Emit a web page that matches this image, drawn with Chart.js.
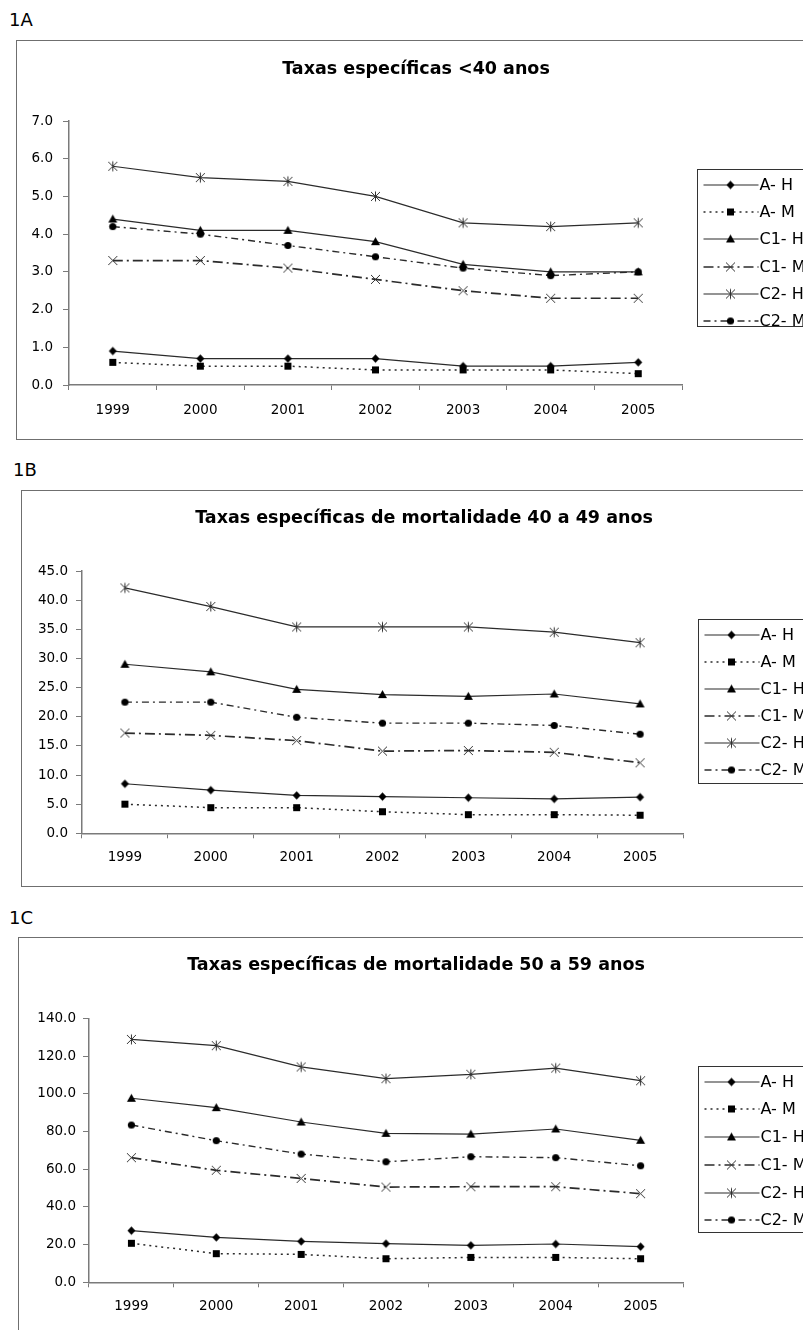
<!DOCTYPE html>
<html>
<head>
<meta charset="utf-8">
<script src="https://cdn.jsdelivr.net/npm/chart.js@4.4.0/dist/chart.umd.min.js"></script>
<style>
html,body{margin:0;padding:0;background:#fff;overflow:hidden;width:803px;height:1330px;position:relative;}
.lbl{position:absolute;font-family:"DejaVu Sans";font-size:18px;line-height:18px;color:#000;}
.box{position:absolute;border:1px solid #6f6f6f;box-sizing:border-box;pointer-events:none;}
canvas{position:absolute;}
</style>
</head>
<body>
<div class="lbl" style="left:9px;top:11px">1A</div>
<div class="lbl" style="left:13px;top:461px">1B</div>
<div class="lbl" style="left:9px;top:909px">1C</div>
<canvas id="cA"></canvas><div class="box" id="bA"></div>
<canvas id="cB"></canvas><div class="box" id="bB"></div>
<canvas id="cC"></canvas><div class="box" id="bC"></div>
<script>
// ---------- data ----------
const years = ['1999', '2000', '2001', '2002', '2003', '2004', '2005'];
const seriesNames = ['A- H', 'A- M', 'C1- H', 'C1- M', 'C2- H', 'C2- M'];

const titleA = 'Taxas específicas <40 anos';
const aH_A  = [0.9, 0.7, 0.7, 0.7, 0.5, 0.5, 0.6];
const aM_A  = [0.6, 0.5, 0.5, 0.4, 0.4, 0.4, 0.3];
const c1H_A = [4.4, 4.1, 4.1, 3.8, 3.2, 3.0, 3.0];
const c1M_A = [3.3, 3.3, 3.1, 2.8, 2.5, 2.3, 2.3];
const c2H_A = [5.8, 5.5, 5.4, 5.0, 4.3, 4.2, 4.3];
const c2M_A = [4.2, 4.0, 3.7, 3.4, 3.1, 2.9, 3.0];
const yTicksA = [0, 1, 2, 3, 4, 5, 6, 7];

const titleB = 'Taxas específicas de mortalidade 40 a 49 anos';
const aH_B  = [8.5, 7.4, 6.5, 6.3, 6.1, 5.9, 6.2];
const aM_B  = [5.0, 4.4, 4.4, 3.7, 3.2, 3.2, 3.1];
const c1H_B = [29.0, 27.7, 24.7, 23.8, 23.5, 23.9, 22.2];
const c1M_B = [17.2, 16.8, 15.9, 14.1, 14.2, 13.9, 12.1];
const c2H_B = [42.1, 38.9, 35.4, 35.4, 35.4, 34.5, 32.7];
const c2M_B = [22.5, 22.5, 19.9, 18.9, 18.9, 18.5, 17.0];
const yTicksB = [0, 5, 10, 15, 20, 25, 30, 35, 40, 45];

const titleC = 'Taxas específicas de mortalidade 50 a 59 anos';
const aH_C  = [27.4, 23.8, 21.7, 20.5, 19.6, 20.3, 18.9];
const aM_C  = [20.7, 15.2, 14.8, 12.5, 13.2, 13.2, 12.5];
const c1H_C = [97.6, 92.6, 85.0, 79.0, 78.6, 81.3, 75.3];
const c1M_C = [66.1, 59.4, 55.1, 50.5, 50.7, 50.7, 47.0];
const c2H_C = [128.8, 125.5, 114.2, 108.0, 110.3, 113.6, 106.9];
const c2M_C = [83.4, 75.1, 68.0, 63.9, 66.6, 66.1, 61.8];
const yTicksC = [0, 20, 40, 60, 80, 100, 120, 140];

// ---------- marker images ----------
function mk(draw, size) {
  size = size || 13;
  const c = document.createElement('canvas');
  c.width = c.height = size;
  const g = c.getContext('2d');
  g.translate(size / 2, size / 2);
  draw(g);
  return c;
}
const MARK = {
  diamond: mk(g => { g.fillStyle = '#000'; g.beginPath(); g.moveTo(0, -4.2); g.lineTo(4, 0); g.lineTo(0, 4.2); g.lineTo(-4, 0); g.closePath(); g.fill(); }),
  square: mk(g => { g.fillStyle = '#000'; g.fillRect(-3.5, -3.5, 7, 7); }),
  triangle: mk(g => { g.fillStyle = '#000'; g.beginPath(); g.moveTo(0, -4.5); g.lineTo(4.5, 3.5); g.lineTo(-4.5, 3.5); g.closePath(); g.fill(); }),
  cross: mk(g => { g.strokeStyle = '#333'; g.lineWidth = 1; g.beginPath(); g.moveTo(-4.5, -4.5); g.lineTo(4.5, 4.5); g.moveTo(4.5, -4.5); g.lineTo(-4.5, 4.5); g.stroke(); }),
  star: mk(g => { g.strokeStyle = '#333'; g.lineWidth = 1; g.beginPath(); g.moveTo(-4.5, -4.5); g.lineTo(4.5, 4.5); g.moveTo(4.5, -4.5); g.lineTo(-4.5, 4.5); g.moveTo(0, -5); g.lineTo(0, 5); g.stroke(); }),
  circle: mk(g => { g.fillStyle = '#000'; g.beginPath(); g.arc(0, 0, 3.6, 0, Math.PI * 2); g.fill(); })
};
const STYLES = [
  { marker: 'diamond', dash: [], width: 1.2 },
  { marker: 'square', dash: [2, 4], width: 1.5 },
  { marker: 'triangle', dash: [], width: 1.2 },
  { marker: 'cross', dash: [10, 4, 2, 4], width: 1.7 },
  { marker: 'star', dash: [], width: 1.2 },
  { marker: 'circle', dash: [7, 4, 2, 4], width: 1.4 }
];
const LINE_COLOR = '#2b2b2b';
const AXIS_COLOR = '#7a7a7a';
const FONT = 'DejaVu Sans';

// ---------- plugins ----------
const boxTitle = {
  id: 'boxTitle',
  afterDraw(chart, args, o) {
    const ctx = chart.ctx;
    ctx.save();
    ctx.fillStyle = '#000';
    ctx.font = 'bold 17.5px "' + FONT + '"';
    ctx.textAlign = 'center';
    ctx.textBaseline = 'alphabetic';
    ctx.fillText(o.text, o.x, o.y);
    ctx.restore();
  }
};
const boxLegend = {
  id: 'boxLegend',
  afterDraw(chart, args, o) {
    const { ctx, chartArea } = chart;
    const x0 = Math.round(chartArea.right + o.gap) + 0.5;
    const y0 = Math.round(chartArea.top + o.top) + 0.5;
    ctx.save();
    ctx.strokeStyle = '#333';
    ctx.lineWidth = 1;
    ctx.setLineDash([]);
    ctx.strokeRect(x0, y0, 400, o.height);
    chart.data.datasets.forEach((ds, i) => {
      const y = Math.round(y0 + o.first + i * o.step);
      ctx.setLineDash(ds.borderDash || []);
      ctx.lineWidth = ds.borderWidth;
      ctx.strokeStyle = ds.borderColor;
      ctx.beginPath();
      ctx.moveTo(x0 + 6, y);
      ctx.lineTo(x0 + 61, y);
      ctx.stroke();
      ctx.setLineDash([]);
      const img = ds.pointStyle;
      ctx.drawImage(img, x0 + 33 - img.width / 2, y - img.height / 2);
      ctx.fillStyle = '#000';
      ctx.font = '16px "' + FONT + '"';
      ctx.textAlign = 'left';
      ctx.textBaseline = 'middle';
      ctx.fillText(ds.label, x0 + 62, y + 1);
    });
    ctx.restore();
  }
};

// ---------- layout (page coordinates) ----------
const LAYOUTS = {
  A: { box: [16, 40, 439], area: [69, 121, 682, 385], title: [416, 74], yPad: 10, xPad: 12, legH: 157, legStep: 27.3 },
  B: { box: [21, 490, 886], area: [82, 571, 683, 833.3], title: [424, 523], yPad: 8, xPad: 11, legH: 164, legStep: 27.1 },
  C: { box: [18, 937, 1345], area: [89, 1018.3, 683, 1282.3], title: [416, 970], yPad: 7, xPad: 11, legH: 166, legStep: 27.7 }
};

function build(key, title, series, yTicks) {
  const L = LAYOUTS[key];
  const bx = L.box[0], by = L.box[1];
  const W = 830 - bx, H = L.box[2] - by;
  const cv = document.getElementById('c' + key);
  cv.width = W; cv.height = H;
  cv.style.left = bx + 'px'; cv.style.top = by + 'px';
  cv.style.width = W + 'px'; cv.style.height = H + 'px';
  const bd = document.getElementById('b' + key);
  bd.style.left = bx + 'px'; bd.style.top = by + 'px';
  bd.style.width = W + 'px'; bd.style.height = (H + 1) + 'px';

  const aL = L.area[0] - bx, aT = L.area[1] - by, aR = L.area[2] - bx, aB = L.area[3] - by;
  const X_H = 30;

  const datasets = series.map((vals, i) => {
    const s = STYLES[i];
    return {
      label: seriesNames[i],
      data: vals,
      borderColor: LINE_COLOR,
      backgroundColor: LINE_COLOR,
      borderWidth: s.width,
      borderDash: s.dash,
      pointStyle: MARK[s.marker],
      pointRadius: 4,
      tension: 0,
      fill: false
    };
  });

  new Chart(cv, {
    type: 'line',
    data: { labels: years, datasets },
    plugins: [boxTitle, boxLegend],
    options: {
      responsive: false,
      animation: false,
      devicePixelRatio: 1,
      events: [],
      layout: { padding: { top: aT, left: 0, right: W - aR, bottom: H - aB - X_H } },
      plugins: {
        legend: { display: false },
        tooltip: { enabled: false },
        title: { display: false },
        boxTitle: { text: title, x: L.title[0] - bx, y: L.title[1] - by },
        boxLegend: { gap: 14.5, top: 48, height: L.legH, first: 15.2, step: L.legStep }
      },
      scales: {
        x: {
          type: 'category',
          offset: true,
          grid: { offset: true, drawOnChartArea: false, drawTicks: true, tickLength: 5, color: AXIS_COLOR, lineWidth: 1 },
          border: { display: true, color: AXIS_COLOR, width: 1.5 },
          ticks: { font: { family: FONT, size: 13.5 }, color: '#000', padding: L.xPad, maxRotation: 0, autoSkip: false },
          afterFit: s => { s.height = X_H; }
        },
        y: {
          min: yTicks[0],
          max: yTicks[yTicks.length - 1],
          grid: { drawOnChartArea: false, drawTicks: true, tickLength: 6, color: AXIS_COLOR, lineWidth: 1 },
          border: { display: true, color: AXIS_COLOR, width: 1.5 },
          ticks: { font: { family: FONT, size: 13.5 }, color: '#000', padding: L.yPad, callback: v => Number(v).toFixed(1) },
          afterBuildTicks: s => { s.ticks = yTicks.map(v => ({ value: v })); },
          afterFit: s => { s.width = aL; }
        }
      }
    }
  });
}

build('A', titleA, [aH_A, aM_A, c1H_A, c1M_A, c2H_A, c2M_A], yTicksA);
build('B', titleB, [aH_B, aM_B, c1H_B, c1M_B, c2H_B, c2M_B], yTicksB);
build('C', titleC, [aH_C, aM_C, c1H_C, c1M_C, c2H_C, c2M_C], yTicksC);
</script>
</body>
</html>
